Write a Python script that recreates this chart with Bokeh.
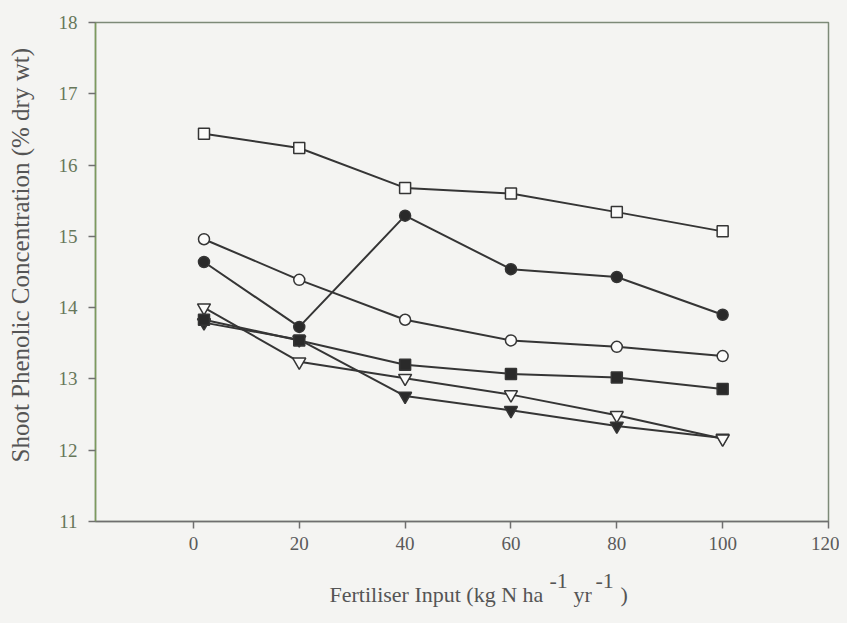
import math
from bokeh.plotting import figure
from bokeh.models import Range1d, FixedTicker
from bokeh.layouts import column, row
from bokeh.core.properties import value
from bokeh.embed import file_html
from bokeh.resources import INLINE

# ---- data ----
x_vals = [2, 20, 40, 60, 80, 100]
open_squares = [16.44, 16.24, 15.68, 15.60, 15.34, 15.07]
filled_circles = [14.64, 13.73, 15.29, 14.54, 14.43, 13.90]
open_circles = [14.96, 14.39, 13.83, 13.54, 13.45, 13.32]
filled_squares = [13.83, 13.54, 13.20, 13.07, 13.02, 12.86]
open_triangles = [14.00, 13.24, 13.01, 12.78, 12.49, 12.16]
filled_triangles = [13.79, 13.55, 12.76, 12.56, 12.34, 12.17]

x_ticks = [0, 20, 40, 60, 80, 100, 120]
y_ticks = [11, 12, 13, 14, 15, 16, 17, 18]

x_title_parts = ["Fertiliser Input (kg N ha", "-1", "yr", "-1", ")"]
x_title_is_sup = [False, True, False, True, False]
x_title_left = [329, 549, 573, 595, 620]
y_title = "Shoot Phenolic Concentration (% dry wt)"

BG = "#f4f4f2"
LINE = "#353535"
DARK = "#2a2a2a"
OPEN_FILL = "#fbfbfa"
FONT = "Liberation Serif"
LAB_COL = "#555555"

TOTAL_W, TOTAL_H = 839, 615
LEFT_W = 40
MAIN_H = 566

p = figure(width=TOTAL_W - LEFT_W, height=MAIN_H, output_backend="svg", toolbar_location=None,
           x_range=Range1d(-18.5, 120), y_range=Range1d(11, 18),
           min_border_left=95 - LEFT_W, min_border_right=11, min_border_top=22,
           min_border_bottom=MAIN_H - 521)
p.background_fill_color = BG
p.border_fill_color = BG
p.outline_line_color = "#7d8a78"
p.outline_line_width = 1.5
p.grid.visible = False

for ax in (p.xaxis[0], p.yaxis[0]):
    ax.major_tick_in = 0
    ax.major_tick_out = 7
    ax.minor_tick_line_color = None
    ax.major_label_text_font = FONT
    ax.major_label_text_font_size = "19px"
    ax.axis_line_width = 1.5
    ax.major_tick_line_width = 1.5

p.xaxis[0].ticker = FixedTicker(ticks=x_ticks)
p.yaxis[0].ticker = FixedTicker(ticks=y_ticks)
p.xaxis[0].axis_line_color = "#6f6f6f"
p.xaxis[0].major_tick_line_color = "#6f6f6f"
p.xaxis[0].major_label_text_color = "#5a5a5a"
p.xaxis[0].major_label_standoff = 8
p.yaxis[0].axis_line_color = "#7c9a5e"
p.yaxis[0].major_tick_line_color = "#707070"
p.yaxis[0].major_label_text_color = "#66775a"
p.yaxis[0].major_label_standoff = 11

series = [
    (filled_triangles, "inverted_triangle", DARK, 13),
    (open_triangles, "inverted_triangle", OPEN_FILL, 13),
    (filled_squares, "square", DARK, 11),
    (open_circles, "circle", OPEN_FILL, 11),
    (filled_circles, "circle", DARK, 11),
    (open_squares, "square", OPEN_FILL, 11),
]
for ys, _, _, _ in series:
    p.line(x_vals, ys, line_color=LINE, line_width=2)
for ys, marker, fill, size in series:
    p.scatter(x_vals, ys, marker=marker, size=size, fill_color=fill,
              line_color=LINE, line_width=1.5)


def blank(w, h):
    f = figure(width=w, height=h, output_backend="svg", toolbar_location=None,
               x_range=Range1d(0, w), y_range=Range1d(h, 0),
               x_axis_location=None, y_axis_location=None, min_border=0)
    f.grid.visible = False
    f.outline_line_color = None
    f.background_fill_color = BG
    f.border_fill_color = BG
    return f


# y title panel
yf = blank(LEFT_W, MAIN_H)
yf.text(x=[20], y=[264], text=[y_title], angle=math.pi / 2, text_font=value(FONT),
        text_font_size="25px", text_color=LAB_COL, text_align="center",
        text_baseline="middle")

# x title panel
xf = blank(TOTAL_W, TOTAL_H - MAIN_H)
base = 594 - MAIN_H
for part, sup, left in zip(x_title_parts, x_title_is_sup, x_title_left):
    xf.text(x=[left], y=[base - 14 if sup else base], text=[part], text_font=value(FONT),
            text_font_size="22px", text_color=LAB_COL, text_align="left",
            text_baseline="alphabetic")

layout = column(row(yf, p, spacing=0), xf, spacing=0)
html = file_html(layout, INLINE)
style = "<style>html, body { background-color: %s !important; }</style>" % BG
if "</head>" in html:
    html = html.replace("</head>", style + "</head>", 1)
else:
    html = style + html
open("out.html", "w").write(html)
